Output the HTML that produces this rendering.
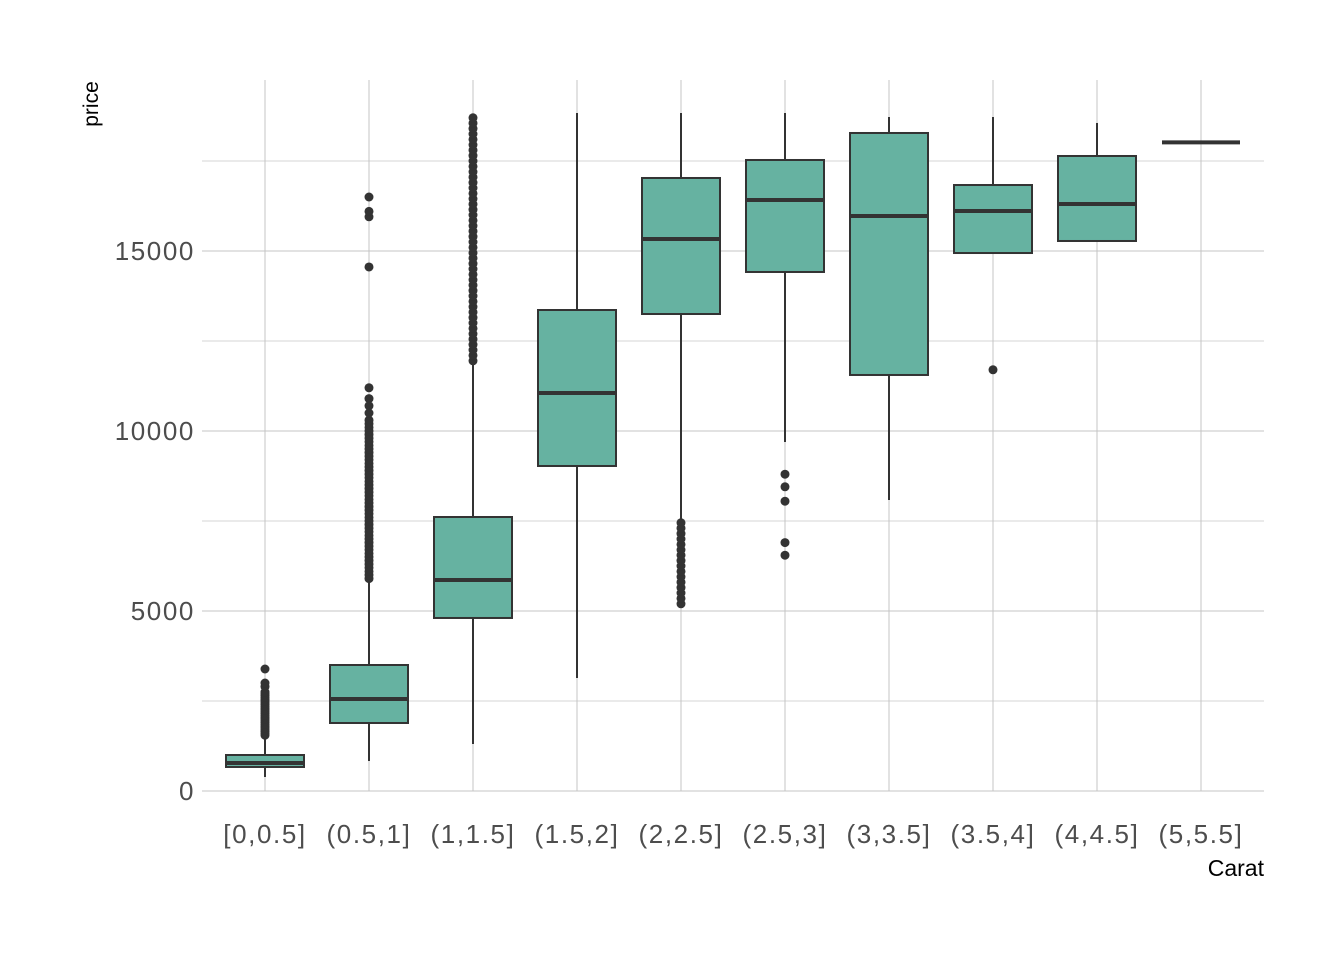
<!DOCTYPE html>
<html><head><meta charset="utf-8"><style>
body{margin:0;background:#fff}
svg{display:block}
text{font-family:"Liberation Sans",Arial,sans-serif}
</style></head><body>
<svg id="chart" width="1344" height="960"></svg>
<script>
const categories=["[0,0.5]","(0.5,1]","(1,1.5]","(1.5,2]","(2,2.5]","(2.5,3]","(3,3.5]","(3.5,4]","(4,4.5]","(5,5.5]"];
const whiskerLow=[389,833,1306,3139,7528,9694,8083,14944,15278,18018];
const q1=[667,1889,4806,9028,13250,14417,11556,14944,15278,18018];
const median=[778,2556,5861,11056,15333,16417,15972,16111,16306,18018];
const q3=[1000,3500,7611,13361,17028,17528,18278,16833,17639,18018];
const whiskerHigh=[1500,5850,11900,18833,18833,18833,18722,18722,18556,18018];
const outliers=[
 [1550,1600,1650,1700,1750,1800,1850,1900,1950,2000,2050,2100,2150,2200,2250,2300,2350,2400,2450,2500,2550,2600,2650,2700,2750,2900,3000,3389],
 [5900,6000,6100,6200,6300,6400,6500,6600,6700,6800,6900,7000,7100,7200,7300,7400,7500,7600,7700,7800,7900,8000,8100,8200,8300,8400,8500,8600,8700,8800,8900,9000,9100,9200,9300,9400,9500,9600,9700,9800,9900,10000,10100,10200,10300,10500,10700,10900,11200,14556,15950,16100,16500],
 [11950,12100,12250,12400,12550,12700,12850,13000,13150,13300,13450,13600,13750,13900,14050,14200,14350,14500,14650,14800,14950,15100,15250,15400,15550,15700,15850,16000,16150,16300,16450,16600,16750,16900,17050,17200,17350,17500,17650,17800,17950,18100,18250,18400,18550,18700],
 [],
 [5200,5350,5500,5650,5800,5950,6100,6250,6400,6550,6700,6850,7000,7150,7300,7450],
 [6550,6900,8050,8450,8800],
 [],
 [11700],
 [],
 []
];
const yTicks=[0,5000,10000,15000];
const yMinor=[2500,7500,12500,17500];

const svg=document.getElementById('chart');
const NS='http://www.w3.org/2000/svg';
const X0=202,X1=1264;
const y=v=>791-v*0.036;
const x=i=>265+i*104;
const BW=78;
function mk(tag,attrs,parent){const e=document.createElementNS(NS,tag);for(const k in attrs)e.setAttribute(k,attrs[k]);(parent||svg).appendChild(e);return e;}

yMinor.forEach(v=>{const l=mk('line',{x1:X0,x2:X1,y1:y(v),y2:y(v),stroke:'#d6d6d6','stroke-width':1});

});
yTicks.forEach(v=>{const l=mk('line',{x1:X0,x2:X1,y1:y(v),y2:y(v),stroke:'#c4c4c4','stroke-width':1});


const t=mk('text',{x:195,y:y(v)+9,'text-anchor':'end','font-size':26,'letter-spacing':1.6,fill:'#4d4d4d'});t.textContent=v;

});
categories.forEach((c,i)=>{const l=mk('line',{x1:x(i),x2:x(i),y1:80,y2:791,stroke:'#c4c4c4','stroke-width':1});


const t=mk('text',{x:x(i),y:843,'text-anchor':'middle','font-size':26,'letter-spacing':1.6,fill:'#4d4d4d'});t.textContent=c;

});

categories.forEach((c,i)=>{
 const g=mk('g',{});
 
 
 mk('line',{x1:x(i),x2:x(i),y1:y(whiskerLow[i]),y2:y(whiskerHigh[i]),stroke:'#333','stroke-width':2},g);
 mk('rect',{x:x(i)-BW/2,y:y(q3[i]),width:BW,height:Math.max(0,y(q1[i])-y(q3[i])),fill:'#66b2a1',stroke:'#333','stroke-width':2},g);
 mk('line',{x1:x(i)-BW/2,x2:x(i)+BW/2,y1:y(median[i]),y2:y(median[i]),stroke:'#333','stroke-width':4},g);
 outliers[i].forEach(v=>{const p=mk('circle',{cx:x(i),cy:y(v),r:4.5,fill:'#333'},g);
  
  });
});

const yt=mk('text',{x:0,y:0,transform:'translate(98,104) rotate(-90)','text-anchor':'middle','font-size':21,fill:'#000'});yt.textContent='price';


const xt=mk('text',{x:1264,y:876,'text-anchor':'end','font-size':23,fill:'#000'});xt.textContent='Carat';


</script>
</body></html>
